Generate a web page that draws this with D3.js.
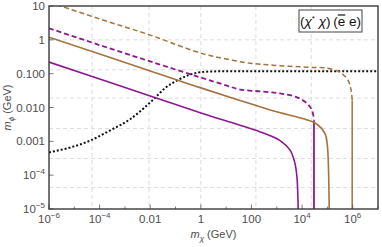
<!DOCTYPE html>
<html>
<head>
<meta charset="utf-8">
<script src="https://cdn.jsdelivr.net/npm/d3@7"></script>
<style>
  body { margin: 0; background: #fff; }
  svg { display: block; }
</style>
</head>
<body>
<div id="chart"></div>
<script>
/* globals d3 */

// purple solid
let psX = [1e-6, 1e-2, 1, 35, 220, 1350, 3400, 5250, 6300, 6900, 7000]
let psY = [0.22, 0.022, 0.0069, 0.0030, 0.0019, 0.00105, 5.4e-4, 2.2e-4, 8.5e-5, 1.7e-5, 1e-5]
// brown solid
let bsX = [1e-6, 1e-2, 1, 35, 700, 16000, 39000, 81000, 98000, 107000, 117000, 117500]
let bsY = [1.2, 0.12, 0.038, 0.0162, 0.0080, 0.0043, 0.0032, 0.0017, 8.5e-4, 3.3e-4, 1.7e-5, 1e-5]
// purple dashed
let pdX = [1e-6, 1.05e-4, 0.01, 0.93, 10, 35, 220, 1350, 6300, 16000, 25000, 29500, 29500, 29500]
let pdY = [2.2, 0.69, 0.23, 0.078, 0.045, 0.034, 0.030, 0.026, 0.020, 0.013, 0.0081, 0.0042, 0.0017, 1e-5]
// brown dashed
let bdX = [1e-6, 1.05e-4, 0.01, 0.93, 9, 87, 700, 16000, 98000, 316000, 660000, 870000, 955000, 955000]
let bdY = [13, 4.1, 1.38, 0.41, 0.275, 0.204, 0.178, 0.155, 0.145, 0.11, 0.063, 0.032, 0.016, 1e-5]
// black dotted
let bkX = [1e-6, 4.2e-5, 2.6e-4, 1.6e-3, 0.013, 0.038, 0.115, 0.31, 0.93, 4.4, 1e7]
let bkY = [4.7e-4, 1.05e-3, 2.1e-3, 4.5e-3, 0.017, 0.037, 0.063, 0.089, 0.11, 0.117, 0.117]

let gridX = [5e-5, 0.009, 1, 150, 23000]
let gridY = [1, 0.13, 0.019, 0.0024, 3.1e-4, 4.3e-5]

let xTicks = [1e-6, 1e-4, 0.01, 1, 100, 1e4, 1e6]
let xTickLabels = [['10', '−6'], ['10', '−4'], ['0.01', ''], ['1', ''], ['100', ''], ['10', '4'], ['10', '6']]
let yTicks = [10, 1, 0.1, 0.01, 0.001, 1e-4, 1e-5]
let yTickLabels = [['10', ''], ['1', ''], ['0.100', ''], ['0.010', ''], ['0.001', ''], ['10', '−4'], ['10', '−5']]

let W = 382
let H = 247
let pL = 49
let pR = 378
let pT = 6
let pB = 209

let purple = '#8e1790'
let brown = '#a5713c'

let series = [
  { xs: bkX, ys: bkY, color: '#111', width: 2, dash: '2,2', tail: null, mono: true },
  { xs: bdX, ys: bdY, color: brown, width: 1.5, dash: '5,3', tail: 12 },
  { xs: pdX, ys: pdY, color: purple, width: 1.8, dash: '5,3', tail: 11 },
  { xs: bsX, ys: bsY, color: brown, width: 1.6, dash: null, tail: null },
  { xs: psX, ys: psY, color: purple, width: 1.6, dash: null, tail: null }
]

let x = d3.scaleLog().domain([1e-6, 1e7]).range([pL, pR])
let y = d3.scaleLog().domain([1e-5, 10]).range([pB, pT])

let svg = d3.select('#chart').append('svg').attr('width', W).attr('height', H)
  .style('font-family', 'Liberation Sans, Arial, sans-serif')

svg.append('clipPath').attr('id', 'clip')
  .append('rect').attr('x', pL).attr('y', pT).attr('width', pR - pL).attr('height', pB - pT)

// grid
let grid = svg.append('g').attr('stroke', '#dcdcdc').attr('stroke-width', 1).attr('stroke-dasharray', '4,3')
grid.selectAll('.gx').data(gridX).enter().append('line')
    .attr('x1', (d) => x(d)).attr('x2', (d) => x(d)).attr('y1', pT).attr('y2', pB)
grid.selectAll('.gy').data(gridY).enter().append('line')
    .attr('y1', (d) => y(d)).attr('y2', (d) => y(d)).attr('x1', pL).attr('x2', pR)

// curves
let line = d3.line().x((d) => x(d[0])).y((d) => y(d[1])).curve(d3.curveCatmullRom.alpha(0.5))
let monoLine = d3.line().x((d) => x(d[0])).y((d) => y(d[1])).curve(d3.curveMonotoneX)
let curves = svg.append('g').attr('clip-path', 'url(#clip)').attr('fill', 'none')
series.forEach(function (s) {
  let pts = s.xs.map((v, i) => [v, s.ys[i]])
  let main = s.tail ? pts.slice(0, s.tail + 1) : pts
  let gen = s.mono ? monoLine : line
  curves.append('path').attr('d', gen(main))
      .attr('stroke', s.color).attr('stroke-width', s.width)
      .attr('stroke-dasharray', s.dash)
  if (s.tail) {
    curves.append('path').attr('d', line(pts.slice(s.tail)))
        .attr('stroke', s.color).attr('stroke-width', s.width)
  }
})

// ticks
let tk = svg.append('g').attr('stroke', '#555').attr('stroke-width', 0.8)
let minorX = d3.range(-5, 8, 2).map((e) => Math.pow(10, e))
let minorY = []
tk.selectAll('.mx').data(minorX).enter().append('line')
    .attr('x1', (d) => x(d)).attr('x2', (d) => x(d))
    .attr('y1', pB).attr('y2', pB - 2.5)
tk.selectAll('.tx').data(xTicks).enter().append('line')
    .attr('x1', (d) => x(d)).attr('x2', (d) => x(d)).attr('y1', pB).attr('y2', pB - 4.5)
tk.selectAll('.ty').data(yTicks).enter().append('line')
    .attr('y1', (d) => y(d)).attr('y2', (d) => y(d)).attr('x1', pL).attr('x2', pL + 4.5)

function label (sel, d) {
  sel.append('tspan').text(d[0])
  if (d[1]) sel.append('tspan').attr('dy', -5).attr('font-size', 8).text(d[1])
}

svg.append('g').selectAll('text').data(xTicks).enter().append('text')
    .attr('x', (d) => x(d)).attr('y', pB + 14)
    .attr('text-anchor', 'middle').attr('font-size', 11.5).attr('fill', '#4d4d4d')
    .each(function (d, i) { label(d3.select(this), xTickLabels[i]) })

svg.append('g').selectAll('text').data(yTicks).enter().append('text')
    .attr('x', pL - 4).attr('y', (d) => y(d) + 4)
    .attr('text-anchor', 'end').attr('font-size', 11.5).attr('fill', '#4d4d4d')
    .each(function (d, i) { label(d3.select(this), yTickLabels[i]) })

// frame
svg.append('rect').attr('x', pL).attr('y', pT).attr('width', pR - pL).attr('height', pB - pT)
    .attr('fill', 'none').attr('stroke', '#3a3a3a').attr('stroke-width', 1.4)

// axis titles
let xt = svg.append('text').attr('x', (pL + pR) / 2).attr('y', 238)
    .attr('text-anchor', 'middle').attr('font-size', 11).attr('fill', '#4d4d4d')
xt.append('tspan').attr('font-style', 'italic').text('m')
xt.append('tspan').attr('font-size', 8).attr('dy', 3).attr('font-style', 'italic').text('χ')
xt.append('tspan').attr('dy', -3).text(' (GeV)')

let yt = svg.append('text').attr('transform', 'translate(11,' + ((pT + pB) / 2) + ') rotate(-90)')
    .attr('text-anchor', 'middle').attr('font-size', 11).attr('fill', '#4d4d4d')
yt.append('tspan').attr('font-style', 'italic').text('m')
yt.append('tspan').attr('font-size', 8).attr('dy', 3).attr('font-style', 'italic').text('ϕ')
yt.append('tspan').attr('dy', -3).text(' (GeV)')

// legend box
let box = svg.append('g')
box.append('rect').attr('x', 299).attr('y', 10).attr('width', 63).attr('height', 22)
    .attr('fill', '#fff').attr('stroke', '#444').attr('stroke-width', 1)
let lt = box.append('text').attr('x', 330.5).attr('y', 26).attr('text-anchor', 'middle')
    .attr('font-size', 13.5).attr('fill', '#111')
lt.append('tspan').text('(')
lt.append('tspan').attr('font-style', 'italic').text('χ')
lt.append('tspan').attr('font-size', 8).attr('dy', -5).text('*')
lt.append('tspan').attr('dy', 5).attr('font-style', 'italic').text(' χ')
lt.append('tspan').text(')\u2009(')
lt.append('tspan').text('e')
lt.append('tspan').text(' e)')
let n = lt.node()
let s0 = n.getStartPositionOfChar(8)
let s1 = n.getEndPositionOfChar(8)
box.append('line').attr('x1', s0.x).attr('x2', s1.x).attr('y1', 15).attr('y2', 15)
    .attr('stroke', '#111').attr('stroke-width', 1.2)
</script>
</body>
</html>
